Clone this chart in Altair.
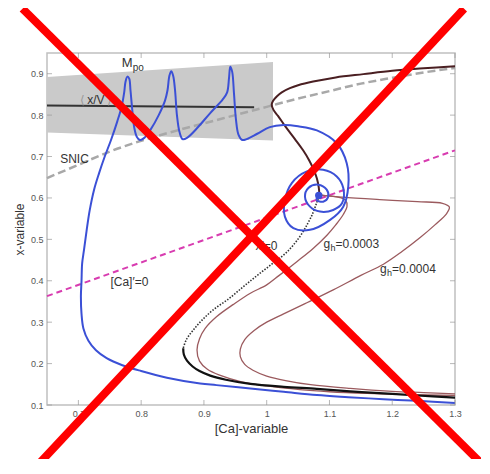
import altair as alt
import pandas as pd

# ---------------- data ----------------
TICK_X = [0.7, 0.8, 0.9, 1.0, 1.1, 1.2, 1.3]
TICK_Y = [0.1, 0.2, 0.3, 0.4, 0.5, 0.6, 0.7, 0.8, 0.9]

BAND_X = [0.65, 1.01]
BAND_TOP = [0.892, 0.928]
BAND_BOT = [0.758, 0.739]

XV_X = [0.65, 0.98]
XV_Y = [0.823, 0.819]

SNIC_X = [0.65, 0.70, 0.75, 0.80, 0.85, 0.90, 0.95, 1.00, 1.05, 1.10, 1.15, 1.20, 1.25, 1.30]
SNIC_Y = [0.648, 0.68, 0.712, 0.738, 0.76, 0.78, 0.80, 0.82, 0.84, 0.858, 0.876, 0.89, 0.903, 0.914]

CA_X = [0.65, 1.30]
CA_Y = [0.363, 0.715]

NULL_UP_X = [1.30, 1.25, 1.20, 1.154, 1.11, 1.074, 1.05, 1.037, 1.024, 1.016, 1.010, 1.008,
             1.011, 1.018, 1.03, 1.045, 1.058, 1.068, 1.075, 1.080, 1.083, 1.084]
NULL_UP_Y = [0.918, 0.913, 0.907, 0.899, 0.891, 0.881, 0.872, 0.865, 0.855, 0.845, 0.834, 0.825,
             0.812, 0.798, 0.772, 0.742, 0.715, 0.69, 0.668, 0.647, 0.625, 0.606]

NULL_MID_X = [1.084, 1.080, 1.074, 1.066, 1.052, 1.032, 1.008, 0.985, 0.963, 0.94, 0.915,
              0.897, 0.883, 0.872, 0.867]
NULL_MID_Y = [0.606, 0.59, 0.565, 0.54, 0.505, 0.469, 0.44, 0.413, 0.386, 0.357, 0.33,
              0.305, 0.281, 0.258, 0.237]

NULL_LOW_X = [0.867, 0.868, 0.873, 0.882, 0.893, 0.91, 0.935, 0.974, 1.027, 1.08, 1.133, 1.186, 1.24, 1.30]
NULL_LOW_Y = [0.237, 0.222, 0.207, 0.193, 0.182, 0.171, 0.161, 0.151, 0.144, 0.139, 0.133, 0.128, 0.123, 0.118]

GH3_X = [1.086, 1.10, 1.117, 1.126, 1.128, 1.122, 1.11, 1.096, 1.074, 1.048, 1.02, 1.0, 0.974,
         0.947, 0.92, 0.902, 0.893, 0.889, 0.893, 0.905, 0.925, 0.96, 1.0, 1.053, 1.10, 1.16, 1.23, 1.30]
GH3_Y = [0.607, 0.605, 0.601, 0.594, 0.58, 0.56, 0.535, 0.51, 0.478, 0.446, 0.413, 0.39, 0.37,
         0.343, 0.313, 0.285, 0.26, 0.233, 0.206, 0.187, 0.172, 0.156, 0.146, 0.137, 0.132, 0.128, 0.125, 0.123]

GH4_X = [1.086, 1.12, 1.18, 1.24, 1.28, 1.291, 1.287, 1.268, 1.245, 1.215, 1.186, 1.15, 1.106,
         1.064, 1.027, 1.0, 0.98, 0.965, 0.958, 0.958, 0.965, 0.978, 1.0, 1.03, 1.07, 1.133, 1.2, 1.25, 1.30]
GH4_Y = [0.607, 0.602, 0.596, 0.591, 0.587, 0.578, 0.563, 0.535, 0.505, 0.47, 0.44, 0.413, 0.378,
         0.347, 0.32, 0.3, 0.28, 0.258, 0.235, 0.217, 0.198, 0.184, 0.17, 0.159, 0.149, 0.14, 0.133, 0.13, 0.127]

BLUE_X = [1.30, 1.24, 1.186, 1.13, 1.08, 1.027, 0.974, 0.92, 0.894, 0.841, 0.80, 0.77, 0.745,
          0.728, 0.716, 0.708, 0.705, 0.704, 0.705, 0.706, 0.709, 0.713, 0.718, 0.725, 0.733,
          0.742, 0.752, 0.762, 0.769, 0.773, 0.775, 0.778, 0.781, 0.783, 0.786, 0.789, 0.793,
          0.798, 0.805, 0.815, 0.828, 0.838, 0.842, 0.845, 0.848, 0.851, 0.854, 0.857, 0.861,
          0.866, 0.873, 0.89, 0.91, 0.93, 0.937, 0.940, 0.942, 0.945, 0.948, 0.951, 0.955,
          0.961, 0.968, 0.985, 1.005, 1.027, 1.05, 1.08, 1.1116, 1.1275, 1.130, 1.122, 1.101,
          1.069, 1.0425, 1.029, 1.029, 1.040, 1.064, 1.090, 1.1116, 1.122, 1.12, 1.106, 1.085,
          1.069, 1.061, 1.0664, 1.082, 1.0956, 1.098, 1.090, 1.0797, 1.082, 1.084]
BLUE_Y = [0.105, 0.110, 0.114, 0.119, 0.124, 0.132, 0.140, 0.148, 0.152, 0.166, 0.182, 0.196, 0.213,
          0.232, 0.255, 0.285, 0.32, 0.362, 0.40, 0.442, 0.475, 0.52, 0.57, 0.62, 0.66,
          0.70, 0.74, 0.785, 0.821, 0.855, 0.88, 0.893, 0.888, 0.86, 0.81, 0.77, 0.748,
          0.740, 0.745, 0.765, 0.80, 0.835, 0.86, 0.895, 0.906, 0.895, 0.86, 0.80, 0.76,
          0.742, 0.745, 0.77, 0.805, 0.838, 0.855, 0.89, 0.917, 0.905, 0.85, 0.79, 0.753,
          0.740, 0.742, 0.755, 0.771, 0.776, 0.773, 0.763, 0.732, 0.684, 0.628, 0.579, 0.547,
          0.523, 0.527, 0.555, 0.595, 0.636, 0.664, 0.668, 0.652, 0.624, 0.587, 0.571, 0.567,
          0.579, 0.603, 0.624, 0.632, 0.62, 0.603, 0.591, 0.595, 0.607, 0.605]

FIXED_X = [1.083]
FIXED_Y = [0.606]

CROSS_X1 = [0.611, 1.3145]
CROSS_Y1 = [1.057, 1.057]
CROSS_X2 = [1.348, 0.631]
CROSS_Y2 = [-0.05, -0.052]

# ---------------- styling / encodings ----------------
FONT = "Liberation Sans"
xscale = alt.Scale(domain=[0.65, 1.3], nice=False, zero=False)
yscale = alt.Scale(domain=[0.1, 0.95], nice=False, zero=False)
xaxis = alt.Axis(values=TICK_X, format="~g", ticks=False, domain=False, grid=False,
                 labelFontSize=9, labelColor="#555", labelPadding=4, labelFlush=False,
                 labelFont=FONT, title="[Ca]-variable", titleFont=FONT, titleFontSize=13,
                 titleFontWeight="normal", titleColor="#333", titlePadding=4)
yaxis = alt.Axis(values=TICK_Y, format="~g", ticks=False, domain=False, grid=False,
                 labelFontSize=9, labelColor="#555", labelPadding=4, labelFlush=False,
                 labelFont=FONT, title="x-variable", titleFont=FONT, titleFontSize=12,
                 titleFontWeight="normal", titleColor="#333", titlePadding=4)
X = alt.X("x:Q", scale=xscale, axis=xaxis)
Y = alt.Y("y:Q", scale=yscale, axis=yaxis)


def line(xs, ys, color, width, dash=None, interp="catmull-rom"):
    df = pd.DataFrame({"x": xs, "y": ys, "i": list(range(len(xs)))})
    kw = dict(color=color, strokeWidth=width, interpolate=interp, strokeJoin="round")
    if dash:
        kw["strokeDash"] = dash
    return alt.Chart(df).mark_line(**kw).encode(x=X, y=Y, order="i:Q")


def label(t, x, y, size=12, dx=0, dy=0, color="#333"):
    df = pd.DataFrame({"x": [x], "y": [y], "t": [t]})
    return alt.Chart(df).mark_text(align="left", baseline="alphabetic", font=FONT,
                                   fontSize=size, color=color, dx=dx, dy=dy).encode(
        x=X, y=Y, text="t:N")


def ticks(xs, ys, orient, xo=0, yo=0):
    df = pd.DataFrame({"x": xs, "y": ys})
    return alt.Chart(df).mark_tick(orient=orient, size=5, thickness=1, color="#999",
                                   xOffset=xo, yOffset=yo).encode(x=X, y=Y)


band = alt.Chart(pd.DataFrame({"x": BAND_X, "y": BAND_TOP, "y2": BAND_BOT})).mark_area(
    color="#cacaca", opacity=1).encode(x=X, y=Y, y2="y2:Q")

layers = [
    band,
    line(SNIC_X, SNIC_Y, "#a8a8a8", 2.5, dash=[8, 4], interp="monotone"),
    line(XV_X, XV_Y, "#333333", 2, interp="linear"),
    line(CA_X, CA_Y, "#d83cb0", 2, dash=[6, 4], interp="linear"),
    line(GH3_X, GH3_Y, "#9b5a5e", 1.3),
    line(GH4_X, GH4_Y, "#9b5a5e", 1.3),
    line(NULL_UP_X, NULL_UP_Y, "#4a1f22", 2),
    line(NULL_MID_X, NULL_MID_Y, "#333333", 1.6, dash=[1.5, 1.5]),
    line(NULL_LOW_X, NULL_LOW_Y, "#111111", 2.2),
    line(BLUE_X, BLUE_Y, "#3b50d6", 2),
    alt.Chart(pd.DataFrame({"x": FIXED_X, "y": FIXED_Y})).mark_circle(
        size=55, color="#3b50d6", opacity=1).encode(x=X, y=Y),
    label("M", 0.769, 0.917, 13),
    label("po", 0.769, 0.917, 10, dx=11, dy=4),
    label("⟨", 0.703, 0.826, 12, color="#999"),
    label("x/V", 0.714, 0.826, 12),
    label("⟩", 0.745, 0.826, 12, color="#999"),
    label("SNIC", 0.671, 0.685, 12),
    label("[Ca]′=0", 0.751, 0.388, 12),
    label("x′=0", 0.982, 0.475, 12),
    label("g", 1.0905, 0.479, 12),
    label("h", 1.0905, 0.479, 9, dx=7, dy=3),
    label("=0.0003", 1.0905, 0.479, 12, dx=12),
    label("g", 1.1807, 0.419, 12),
    label("h", 1.1807, 0.419, 9, dx=7, dy=3),
    label("=0.0004", 1.1807, 0.419, 12, dx=12),
    ticks(TICK_X, [0.1] * len(TICK_X), "vertical", yo=-2.5),
    ticks(TICK_X, [0.95] * len(TICK_X), "vertical", yo=2.5),
    ticks([0.65] * len(TICK_Y), TICK_Y, "horizontal", xo=2.5),
    ticks([1.3] * len(TICK_Y), TICK_Y, "horizontal", xo=-2.5),
]

cross_df = pd.DataFrame({"x": CROSS_X1, "y": CROSS_Y1, "x2": CROSS_X2, "y2": CROSS_Y2})
cross = alt.Chart(cross_df).mark_rule(color="#ff0000", strokeWidth=8, strokeCap="butt").encode(
    x=X, y=Y, x2="x2:Q", y2="y2:Q")
layers.append(cross)

chart = alt.layer(*layers).properties(
    width=408, height=352,
    padding={"left": 39, "top": 45, "right": 26, "bottom": 54},
    autosize=alt.AutoSizeParams(type="none"),
    background="white",
).configure_view(stroke="#c0c0c0", strokeWidth=1.5)

chart.save("out.html", embed_options={"renderer": "svg", "actions": False})
